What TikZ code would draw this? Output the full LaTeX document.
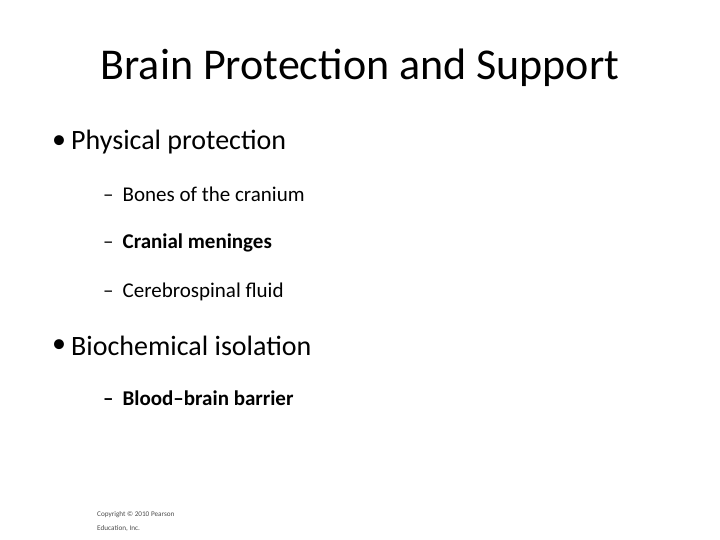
\documentclass[tikz,border=0pt]{standalone}
\usepackage{fontspec}
\setmainfont{Carlito}
\begin{document}
\begin{tikzpicture}[x=1pt,y=-1pt,
  txt/.style={anchor=west,inner sep=0pt},
  lvl1/.style={txt,font=\fontsize{28}{32}\selectfont},
  lvl2/.style={txt,font=\fontsize{21}{25}\selectfont}]
\useasboundingbox (0,0) rectangle (720,540);
\node[inner sep=0pt,font=\fontsize{44}{50}\selectfont] (title) at (360,68) {Brain Protection and Support};
\node[lvl1] (b1) at (52,142) {•};
\node[lvl1] (t1) at (71,142) {Physical protection};
\node[lvl2] (s1) at (103,194) {–\hspace{9pt}Bones of the cranium};
\node[lvl2] (s2) at (103,243) {–\hspace{9pt}\textbf{Cranial meninges}};
\node[lvl2] (s3) at (103,292) {–\hspace{9pt}Cerebrospinal fluid};
\node[lvl1] (b2) at (52,346) {•};
\node[lvl1] (t2) at (71,346) {Biochemical isolation};
\node[lvl2] (s4) at (103,398) {\textbf{–\hspace{9pt}Blood–brain barrier}};
\node[txt,align=left,font=\fontsize{7.2}{14}\selectfont,text=black!70] (c) at (97,521) {Copyright © 2010 Pearson\\Education, Inc.};
\end{tikzpicture}
\end{document}
